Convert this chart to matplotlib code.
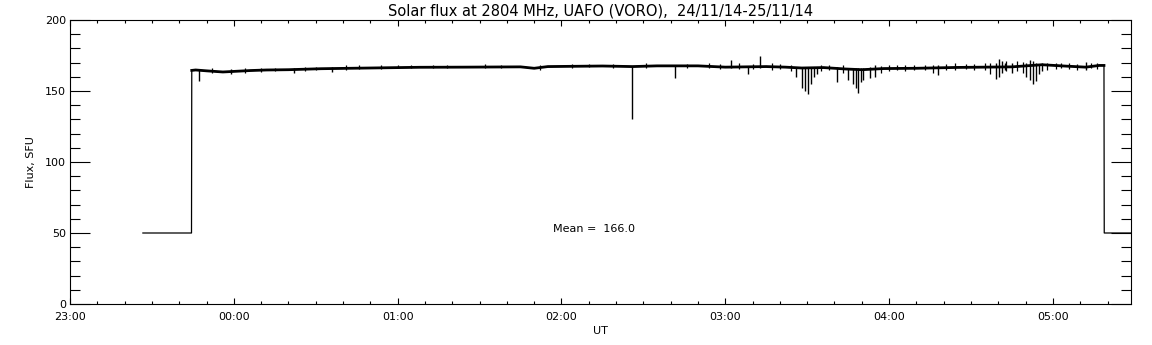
import matplotlib
matplotlib.use("Agg")
import matplotlib.pyplot as plt
from matplotlib.ticker import MultipleLocator, FuncFormatter

# time in minutes after 23:00 (24/11/14), flux in SFU
base_t = [26.7, 44.5, 44.55, 44.6, 46, 50, 56, 62, 66, 72, 80, 92, 110, 128, 145,
          165, 170, 175, 195, 206, 215, 230, 240, 255, 262, 268, 276, 284, 290,
          298, 310, 325, 345, 356, 365, 372, 377, 378.7, 378.8, 395]
base_v = [50, 50, 107, 164.5, 164.8, 164.2, 163.4, 164.0, 164.4, 164.8, 165.0,
          165.7, 166.2, 166.7, 166.8, 167.0, 166.0, 167.2, 167.6, 167.2, 167.7,
          167.7, 166.8, 167.2, 166.8, 166.2, 166.5, 165.5, 165.0, 165.8, 166.0,
          166.6, 167.0, 168.5, 167.5, 166.8, 168.0, 168.0, 50, 50]

# spikes / dips: time, low, high
spike_t = [47.3, 59.0, 82.0, 96.0, 205.9, 221.6, 242.0, 248.2, 252.7, 266.0,
           268.0, 269.1, 270.2, 271.3, 272.4, 273.5, 280.9, 285.0, 286.8, 287.9,
           288.7, 289.6, 290.3, 293.0, 295.0, 318.0, 339.0, 340.2, 341.2, 342.3,
           345.0, 350.0, 351.5, 352.6, 353.7, 354.8, 356.0, 372.0]
spike_lo = [157, 162, 162.5, 163.5, 130, 159, 166, 162, 166.5, 160,
            152, 150, 148, 155, 160, 162, 156.5, 158, 155, 152,
            148.8, 156, 158, 159, 160, 161, 158.5, 160, 163, 165,
            163, 160, 158, 155, 157, 162, 164, 165]
spike_hi = [165, 165.5, 166.5, 167, 167.5, 167.5, 172, 167.5, 174.6, 167,
            167, 167, 166.5, 167, 167, 167, 167, 166.5, 166, 166,
            166, 166.5, 166, 167, 168, 168, 170, 172.5, 171, 170,
            170, 170, 172, 171, 170, 169, 170, 170.5]

# small jitter ticks on the trace: time, low, high
jit_t = [52, 64, 70, 75, 86, 90, 101, 106, 114, 120, 125, 133, 138, 152, 158,
         172, 184, 190, 199, 211, 226, 234, 238, 245, 250, 257, 260, 264, 275,
         278, 283, 297, 300, 303, 306, 309, 313, 316, 321, 324, 328, 331, 335,
         337, 343, 347, 349, 358, 361, 363, 366, 369, 374, 376]
jit_lo = [163, 163, 163.5, 164, 164, 164.5, 165, 165.5, 165.5, 166, 166, 166, 166,
          166, 166.5, 165, 166.5, 167, 166.5, 166.5, 166.5, 166.5, 165.5, 165.5,
          165.5, 165, 165.5, 164, 164, 164.5, 163, 163, 164, 164.5, 164, 164.5,
          165, 163, 165, 165, 165.5, 165, 164.5, 162, 164, 164, 163, 165, 165.5,
          166, 165.5, 165, 166, 165.5]
jit_hi = [166, 166, 166, 166.5, 167, 167, 168, 168, 168, 168.5, 168.5, 168.5,
          168.5, 169, 168.5, 168, 169, 169, 169, 169.5, 169, 169.5, 169, 169.5,
          169, 169.5, 169, 168.5, 168.5, 168, 168, 167.5, 168, 168, 168, 168.5,
          168.5, 168.5, 169, 169.5, 169, 169, 170, 169.5, 171, 171, 170.5, 170,
          169.5, 170, 169.5, 169, 169.5, 170]

mean_flux = 166.0

fig = plt.figure(figsize=(11.52, 3.45), dpi=100)
ax = fig.add_axes([70 / 1152, 41 / 345, 1061 / 1152, 284 / 345])

ax.plot(base_t, base_v, color='black', lw=0.9)
ax.plot(base_t[3:-2], base_v[3:-2], color='black', lw=2.0)
ax.vlines(spike_t, spike_lo, spike_hi, color='black', lw=1.0)
ax.vlines(jit_t, jit_lo, jit_hi, color='black', lw=0.9)

ax.set_xlim(0, 388.6)
ax.set_ylim(0, 200)

ax.xaxis.set_major_locator(MultipleLocator(60))
ax.xaxis.set_minor_locator(MultipleLocator(10))
ax.yaxis.set_major_locator(MultipleLocator(50))
ax.yaxis.set_minor_locator(MultipleLocator(10))


def hhmm(m, pos):
    total = int(round(m)) + 23 * 60
    return '%02d:%02d' % ((total // 60) % 24, total % 60)


ax.xaxis.set_major_formatter(FuncFormatter(hhmm))

ax.tick_params(axis='x', which='major', direction='in', length=4, width=0.8,
               top=True, labelsize=8, pad=6)
ax.tick_params(axis='x', which='minor', direction='in', length=2.2, width=0.8, top=True)
ax.tick_params(axis='y', which='major', direction='in', length=14.5, width=0.8,
               right=True, labelsize=8, pad=3)
ax.tick_params(axis='y', which='minor', direction='in', length=7.2, width=0.8, right=True)
for s in ax.spines.values():
    s.set_linewidth(0.8)

ax.set_title('Solar flux at 2804 MHz, UAFO (VORO),  24/11/14-25/11/14',
             fontsize=10.5, pad=3)
ax.set_xlabel('UT', fontsize=8, labelpad=3)
ax.set_ylabel('Flux, SFU', fontsize=8, labelpad=6)
ax.text(177, 52.8, 'Mean =  %.1f' % mean_flux, fontsize=8, va='center', ha='left')

fig.savefig('out.png', dpi=100)
